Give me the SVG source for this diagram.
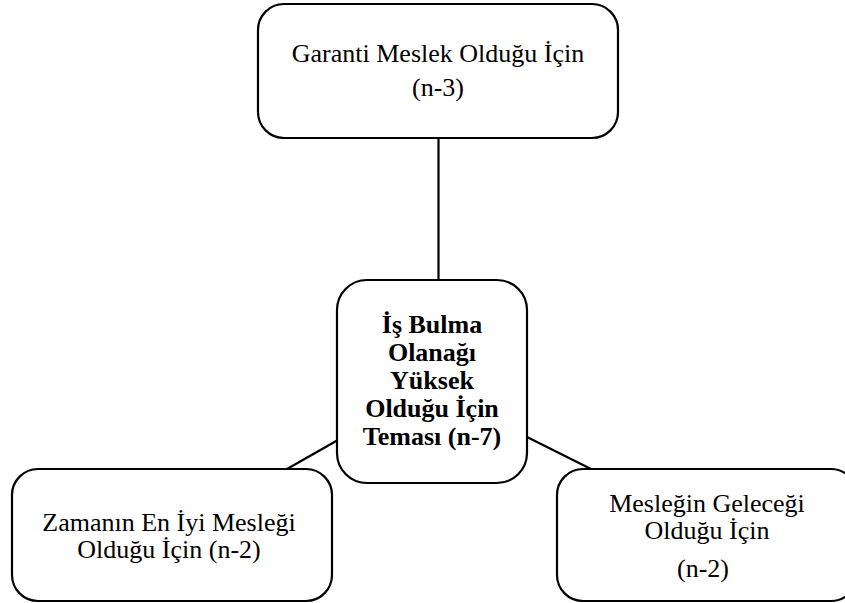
<svg xmlns="http://www.w3.org/2000/svg" width="845" height="603" viewBox="0 0 845 603">
  <style>
    .box { fill: #ffffff; stroke: #000000; stroke-width: 2.2; }
    .link { stroke: #000000; stroke-width: 2.2; fill: none; }
    .lbl { font-family: "Liberation Serif", "Times New Roman", serif; font-size: 26px; fill: #000000; text-anchor: middle; }
    .bold { font-weight: bold; }
  </style>
  <rect width="845" height="603" fill="#ffffff"/>

  <!-- connectors -->
  <g id="connectors">
    <line class="link" x1="438.5" y1="138" x2="438.5" y2="281"/>
    <line class="link" x1="338" y1="440" x2="287" y2="469"/>
    <line class="link" x1="527" y1="437" x2="591" y2="469"/>
  </g>

  <!-- top node -->
  <g id="node-garanti">
    <rect class="box" x="258" y="4" width="360" height="134" rx="26" ry="26"/>
    <text class="lbl" x="438" y="62">Garanti Meslek Olduğu İçin</text>
    <text class="lbl" x="438" y="96">(n-3)</text>
  </g>

  <!-- central node -->
  <g id="node-center">
    <rect class="box" x="337" y="280" width="190" height="203" rx="30" ry="30"/>
    <text class="lbl bold" x="432" y="333">İş Bulma</text>
    <text class="lbl bold" x="432" y="361">Olanağı</text>
    <text class="lbl bold" x="432" y="389">Yüksek</text>
    <text class="lbl bold" x="432" y="417">Olduğu İçin</text>
    <text class="lbl bold" x="432" y="445">Teması (n-7)</text>
  </g>

  <!-- bottom-left node -->
  <g id="node-zamanin">
    <rect class="box" x="12" y="469" width="320" height="132" rx="26" ry="26"/>
    <text class="lbl" x="169" y="531">Zamanın En İyi Mesleği</text>
    <text class="lbl" x="169" y="558">Olduğu İçin (n-2)</text>
  </g>

  <!-- bottom-right node -->
  <g id="node-gelecek">
    <rect class="box" x="557" y="469" width="300" height="132" rx="26" ry="26"/>
    <text class="lbl" x="707" y="512">Mesleğin Geleceği</text>
    <text class="lbl" x="707" y="539">Olduğu İçin</text>
    <text class="lbl" x="703" y="577">(n-2)</text>
  </g>
</svg>
